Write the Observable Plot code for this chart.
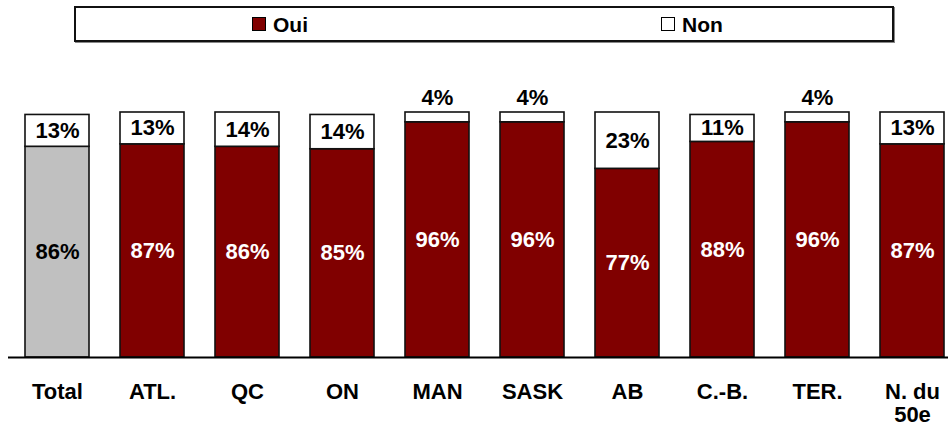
<!DOCTYPE html>
<html>
<head>
<meta charset="utf-8">
<script src="https://cdn.jsdelivr.net/npm/d3@7"></script>
<script src="https://cdn.jsdelivr.net/npm/@observablehq/plot@0.6"></script>
<style>
  html, body { margin: 0; padding: 0; background: #fff; }
  body { font-family: "Liberation Sans", Arial, sans-serif; width: 948px; }
  #legend { position: relative; height: 48px; }
  #legend .box { position: absolute; left: 74px; top: 6px; width: 820px; height: 36px; box-sizing: border-box; border: 2px solid #111; box-shadow: 1px 1px 0 #888; }
  #legend .item { position: absolute; top: 0; height: 33px; line-height: 33px; font-size: 21px; font-weight: bold; color: #000; }
  #legend .sw { display: inline-block; width: 12px; height: 12px; border: 1px solid #000; vertical-align: middle; margin-right: 7px; position: relative; top: -2px; }
</style>
</head>
<body>
<div id="legend"></div>
<div id="chart"></div>
<script>
const categories = ["Total", "ATL.", "QC", "ON", "MAN", "SASK", "AB", "C.-B.", "TER.", "N. du 50e"];
const ouiValues = [86, 87, 86, 85, 96, 96, 77, 88, 96, 87];
const nonValues = [13, 13, 14, 14, 4, 4, 23, 11, 4, 13];
const seriesNames = ["Oui", "Non"];
const seriesColors = ["#800000", "#ffffff"];
const totalColor = "#c0c0c0";

// Legend (HTML, above the SVG)
const legend = document.getElementById("legend");
const box = document.createElement("div");
box.className = "box";
legend.appendChild(box);
const itemLefts = [176, 585];
seriesNames.forEach((name, i) => {
  const it = document.createElement("div");
  it.className = "item";
  it.style.left = itemLefts[i] + "px";
  it.innerHTML = `<span class="sw" style="background:${seriesColors[i]}"></span>${name}`;
  box.appendChild(it);
});

// Table built from the arrays
const rows = [];
categories.forEach((c, i) => {
  rows.push({cat: c, seg: "Oui", y1: 0, y2: ouiValues[i], v: ouiValues[i],
             fill: c === "Total" ? totalColor : seriesColors[0], text: c === "Total" ? "#000" : "#fff"});
  rows.push({cat: c, seg: "Non", y1: ouiValues[i], y2: ouiValues[i] + nonValues[i], v: nonValues[i],
             fill: seriesColors[1], text: "#000"});
});
const inside = rows.filter(d => d.seg === "Oui" || d.v >= 8);
const above = rows.filter(d => d.seg === "Non" && d.v < 8);

const chart = Plot.plot({
  width: 948,
  height: 381,
  marginTop: 64,
  marginBottom: 72,
  marginLeft: 8,
  marginRight: 0,
  style: {fontFamily: "'Liberation Sans', Arial, sans-serif", fontSize: "22px", fontWeight: "bold", color: "#000", background: "#fff"},
  x: {domain: categories, range: [7, 962], paddingInner: 0.33, paddingOuter: 0.165, align: 0.5, label: null},
  y: {domain: [0, 100], axis: null},
  color: {type: "identity"},
  marks: [
    Plot.rectY(rows, {x: "cat", y1: "y1", y2: "y2", fill: "fill", stroke: "#111", strokeWidth: 1.6}),
    Plot.text(inside, {x: "cat", y: d => (d.y1 + d.y2) / 2, text: d => d.v + "%", fill: "text", fontSize: 22, fontWeight: "bold"}),
    Plot.text(above, {x: "cat", y: "y2", text: d => d.v + "%", fill: "#000", lineAnchor: "bottom", dy: -8, fontSize: 22, fontWeight: "bold"}),
    Plot.ruleY([0], {stroke: "#000", strokeWidth: 2}),
    Plot.axisX({tickSize: 0, tickPadding: 25, fontSize: 22, fontWeight: "bold", lineHeight: 1.05, label: null,
                tickFormat: d => d === "N. du 50e" ? "N. du\n50e" : d})
  ]
});
document.getElementById("chart").appendChild(chart);
</script>
</body>
</html>
